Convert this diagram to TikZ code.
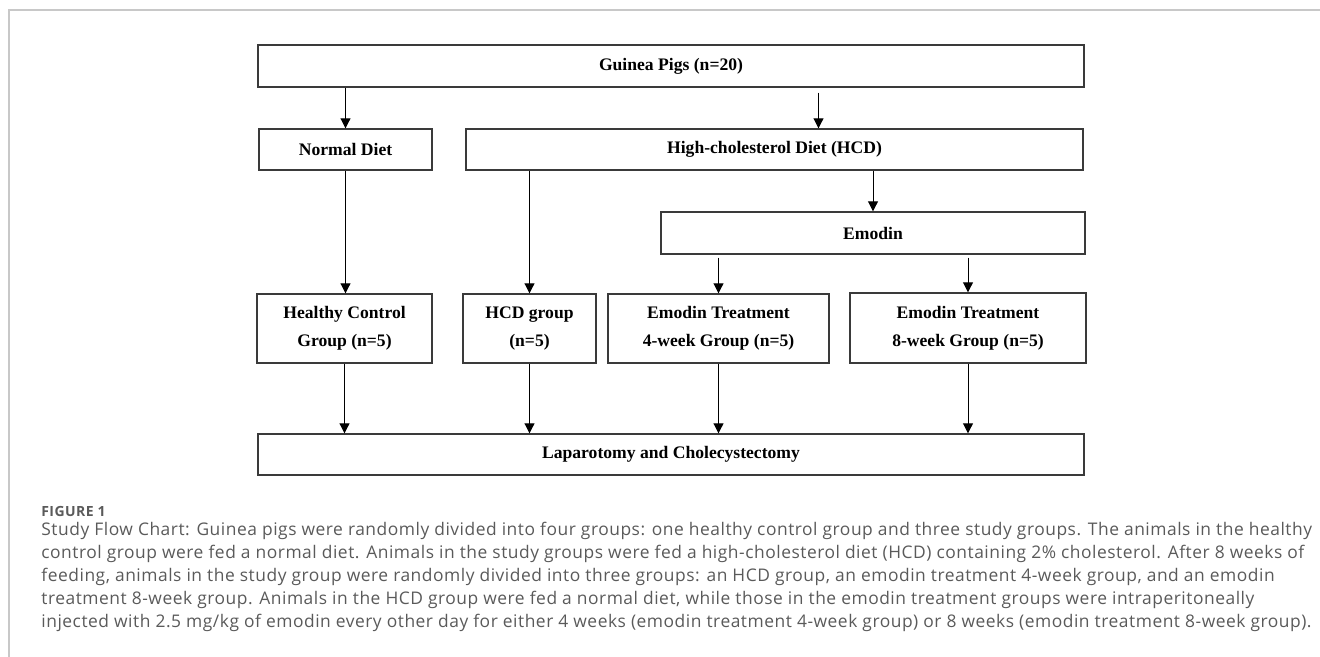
\documentclass[tikz,border=0pt]{standalone}
\usepackage{fontspec}
\setmainfont{Liberation Serif}
\newfontfamily\capfont[LetterSpace=3]{Open Sans}
\usetikzlibrary{arrows.meta}

\definecolor{framegray}{HTML}{C8C8C8}
\definecolor{boxgray}{HTML}{3A3A3A}
\definecolor{capgray}{HTML}{5A5A5A}

\tikzset{
    flowbox/.style={draw=boxgray, line width=0.7pt, inner sep=0pt, align=center,
        font=\bfseries\fontsize{8.8}{14}\selectfont},
    flowarrow/.style={line width=0.5pt, -{Triangle[length=5pt,width=5pt]}}
}

\begin{document}
\begin{tikzpicture}[x=0.5pt, y=-0.5pt]
% Page size and frame
\useasboundingbox (0,0) rectangle (1320,657);
\draw[framegray, line width=0.75pt] (1320,10) -- (9,10) -- (9,657);

% Boxes
\node[flowbox, minimum width=413pt, minimum height=21pt] (guinea) at (671,66) {Guinea Pigs (n=20)};
\node[flowbox, minimum width=86.5pt, minimum height=20.5pt] (normal) at (345.5,149.5) {Normal Diet};
\node[flowbox, minimum width=308.5pt, minimum height=20.5pt] (hcd) at (774.5,149.5) {High-cholesterol Diet (HCD)};
\node[flowbox, minimum width=212pt, minimum height=21pt] (emodin) at (873,233) {Emodin};

\node[flowbox, minimum width=87.5pt, minimum height=34.5pt] (hc) at (344.5,328.5) {Healthy Control\\Group (n=5)};
\node[flowbox, minimum width=66.5pt, minimum height=34.5pt] (hcdg) at (529.5,328.5) {HCD group\\(n=5)};
\node[flowbox, minimum width=110.5pt, minimum height=34.5pt] (et4) at (718.5,328.5) {Emodin Treatment\\4-week Group (n=5)};
\node[flowbox, minimum width=118pt, minimum height=35pt] (et8) at (968,328) {Emodin Treatment\\8-week Group (n=5)};

\node[flowbox, minimum width=413pt, minimum height=20.5pt] (lap) at (671,454.5) {Laparotomy and Cholecystectomy};

% Arrows
\coordinate (split) at ([xshift=22pt]hcd.north);
\draw[flowarrow] (normal.north |- guinea.south) -- (normal.north);
\draw[flowarrow, shorten <=2.5pt] (split |- guinea.south) -- (split);
\draw[flowarrow] (normal.south) -- (normal.south |- hc.north);
\draw[flowarrow] (hcdg.north |- hcd.south) -- (hcdg.north);
\draw[flowarrow] (emodin.north |- hcd.south) -- (emodin.north);
\foreach \n in {et4,et8}
    \draw[flowarrow, shorten <=1.5pt] (\n.north |- emodin.south) -- (\n.north);
\foreach \n in {hc,hcdg,et4,et8}
    \draw[flowarrow] (\n.south) -- (\n.south |- lap.north);

% Caption
\node[anchor=base west, inner sep=0pt, text=capgray, font=\capfont\bfseries\fontsize{7}{8}\selectfont] (figlabel) at (41,516) {FIGURE 1};
\node[anchor=base west, inner sep=0pt, text=capgray, align=left, font=\capfont\fontsize{8.7}{11.5}\selectfont] (caption) at (41,627) {Study Flow Chart: Guinea pigs were randomly divided into four groups: one healthy control group and three study groups. The animals in the healthy\\
control group were fed a normal diet. Animals in the study groups were fed a high-cholesterol diet (HCD) containing 2\% cholesterol. After 8 weeks of\\
feeding, animals in the study group were randomly divided into three groups: an HCD group, an emodin treatment 4-week group, and an emodin\\
treatment 8-week group. Animals in the HCD group were fed a normal diet, while those in the emodin treatment groups were intraperitoneally\\
injected with 2.5 mg/kg of emodin every other day for either 4 weeks (emodin treatment 4-week group) or 8 weeks (emodin treatment 8-week group).};
\end{tikzpicture}
\end{document}
